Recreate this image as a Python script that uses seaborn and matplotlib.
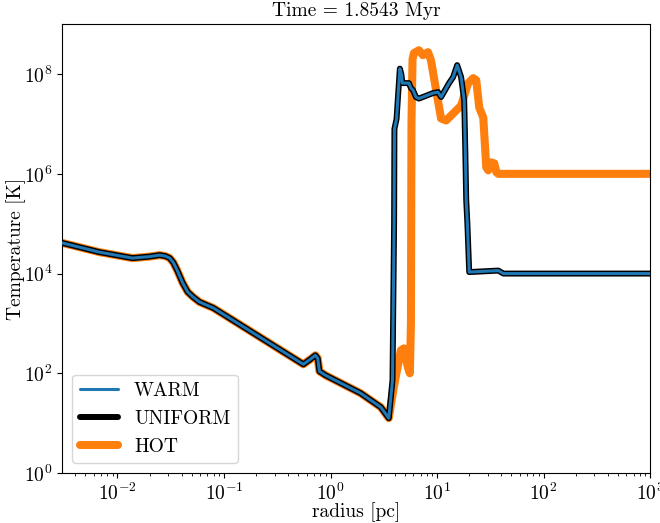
import numpy as np
import pandas as pd
import matplotlib
matplotlib.use("Agg")
import matplotlib.pyplot as plt
import seaborn as sns

# log10(radius [pc]) and log10(T [K])
warm_logr = [-2.6, -2.547, -2.17, -1.86, -1.70, -1.604, -1.55, -1.509, -1.475, -1.44,
             -1.387, -1.34, -1.29, -1.23, -1.10,
             -0.255, -0.19, -0.142, -0.12, -0.104, -0.047, 0.283, 0.472, 0.547, 0.582, 0.597,
             0.60, 0.613, 0.62, 0.632, 0.651, 0.665, 0.675, 0.736, 0.755, 0.774, 0.802,
             0.83, 0.962, 1.009, 1.038, 1.113, 1.151, 1.189, 1.226, 1.255, 1.265, 1.274,
             1.285, 1.302, 1.575, 1.623, 3.1]
warm_logT = [4.66, 4.63, 4.43, 4.31, 4.34, 4.37, 4.35, 4.31, 4.22, 4.07,
             3.81, 3.63, 3.53, 3.43, 3.31,
             2.18, 2.28, 2.36, 2.30, 2.04, 1.96, 1.60, 1.32, 1.10, 1.86, 5.0,
             6.9, 7.03, 7.1, 7.5, 8.11, 8.0, 7.82, 7.82, 7.72, 7.68, 7.54,
             7.51, 7.62, 7.64, 7.54, 7.82, 7.94, 8.18, 7.94, 7.47, 6.5, 5.47,
             5.0, 4.03, 4.06, 4.0, 4.0]

hot_logr = [-2.6, -2.547, -2.17, -1.86, -1.70, -1.604, -1.55, -1.509, -1.475, -1.44,
            -1.387, -1.34, -1.29, -1.23, -1.10,
            -0.255, -0.19, -0.142, -0.12, -0.104, -0.047, 0.283, 0.472, 0.547, 0.594, 0.66,
            0.689, 0.726, 0.745, 0.755, 0.76, 0.77, 0.783, 0.83, 0.868, 0.915, 0.943,
            0.991, 1.038, 1.085, 1.198, 1.226, 1.292, 1.34, 1.368, 1.396, 1.434, 1.462,
            1.481, 1.509, 1.538, 1.557, 1.575, 3.1]
hot_logT = [4.66, 4.63, 4.43, 4.31, 4.34, 4.37, 4.35, 4.31, 4.22, 4.07,
            3.81, 3.63, 3.53, 3.43, 3.31,
            2.18, 2.28, 2.36, 2.30, 2.04, 1.96, 1.60, 1.32, 1.10, 1.72, 2.46,
            2.5, 2.12, 2.0, 3.0, 7.0, 8.3, 8.42, 8.48, 8.38, 8.44, 8.28,
            7.68, 7.11, 7.07, 7.31, 7.37, 7.82, 7.92, 7.88, 7.33, 7.13, 6.13,
            6.07, 6.23, 6.21, 6.03, 6.0, 6.0]

labels = ["WARM", "UNIFORM", "HOT"]
title = "Time = 1.8543 Myr"

sns.set_style("ticks", {"axes.edgecolor": "black", "xtick.color": "black",
                        "ytick.color": "black", "axes.labelcolor": "black",
                        "text.color": "black"})
plt.rcParams["font.family"] = ["cmr10", "DejaVu Serif"]
plt.rcParams["mathtext.fontset"] = "cm"
plt.rcParams["axes.formatter.use_mathtext"] = True
plt.rcParams["axes.unicode_minus"] = False

fig = plt.figure(figsize=(6.6, 5.23), dpi=100)
ax = fig.add_axes([0.094, 0.0956, 0.891, 0.858])

warm = pd.DataFrame({"r": 10 ** np.array(warm_logr), "T": 10 ** np.array(warm_logT)})
hot = pd.DataFrame({"r": 10 ** np.array(hot_logr), "T": 10 ** np.array(hot_logT)})

sns.lineplot(data=hot, x="r", y="T", ax=ax, color="#ff7f0e", linewidth=5.8,
             sort=False, estimator=None, label=labels[2], zorder=1)
sns.lineplot(data=warm, x="r", y="T", ax=ax, color="black", linewidth=4.3,
             sort=False, estimator=None, label=labels[1], zorder=2)
sns.lineplot(data=warm, x="r", y="T", ax=ax, color="#1f77b4", linewidth=2.2,
             sort=False, estimator=None, label=labels[0], zorder=3)

ax.set_xscale("log")
ax.set_yscale("log")
ax.set_xlim(10 ** -2.52, 1e3)
ax.set_ylim(1, 1e9)
ax.set_yticks([1e0, 1e2, 1e4, 1e6, 1e8])
ax.yaxis.set_minor_locator(matplotlib.ticker.NullLocator())
ax.set_xlabel("radius [pc]", fontsize=14)
ax.set_ylabel("Temperature [K]", fontsize=14)
ax.xaxis.set_label_coords(0.5, -0.066)
ax.yaxis.set_label_coords(-0.062, 0.5)
ax.set_title(title, fontsize=14)
ax.tick_params(labelsize=14)

h, l = ax.get_legend_handles_labels()
order = [l.index(x) for x in labels]
ax.legend([h[i] for i in order], [l[i] for i in order], loc="lower left",
          fontsize=14, frameon=True)

fig.savefig("out.png", dpi=100)
